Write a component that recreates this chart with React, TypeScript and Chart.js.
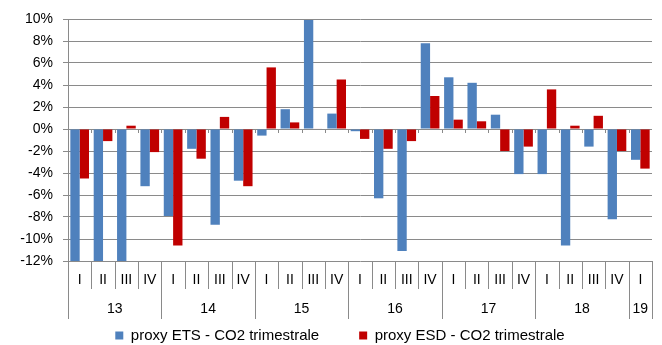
import React, { useEffect, useRef } from "react";
import { Chart, registerables } from "chart.js";

Chart.register(...registerables);

const quarters = [
  "I", "II", "III", "IV",
  "I", "II", "III", "IV",
  "I", "II", "III", "IV",
  "I", "II", "III", "IV",
  "I", "II", "III", "IV",
  "I", "II", "III", "IV",
  "I",
];
const years = ["13", "14", "15", "16", "17", "18", "19"];
const yearSpans = [4, 4, 4, 4, 4, 4, 1];

const etsValues = [
  -12, -12, -12, -5.2,
  -7.9, -1.8, -8.7, -4.7,
  -0.6, 1.8, 9.9, 1.4,
  -0.2, -6.3, -11.1, 7.8,
  4.7, 4.2, 1.3, -4.1,
  -4.1, -10.6, -1.6, -8.2,
  -2.8,
];
const esdValues = [
  -4.5, -1.1, 0.3, -2.1,
  -10.6, -2.7, 1.1, -5.2,
  5.6, 0.6, 0.05, 4.5,
  -0.9, -1.8, -1.1, 3.0,
  0.85, 0.7, -2.0, -1.6,
  3.6, 0.3, 1.2, -2.0,
  -3.6,
];

const seriesNames = ["proxy ETS - CO2 trimestrale", "proxy ESD - CO2 trimestrale"];
const yMin = -12;
const yMax = 10;
const yStep = 2;

const FONT = '"Liberation Sans", Arial, sans-serif';
const GRID = "#8a8a8a";

const legendShift = {
  id: "legendShift",
  afterLayout(chart: any) {
    if (chart.legend) {
      chart.legend.left += 14;
      chart.legend.right += 14;
    }
  },
};

const multiLevelAxis = {
  id: "multiLevelAxis",
  afterDraw(chart: any) {
    const { ctx, chartArea, scales } = chart;
    const x = scales.x;
    const y = scales.y;
    const n = quarters.length;
    const step = (chartArea.right - chartArea.left) / n;
    const bottom = chartArea.bottom;
    const zero = y.getPixelForValue(0);
    const yearBounds = new Set<number>();
    let acc = 0;
    yearBounds.add(0);
    yearSpans.forEach((s) => {
      acc += s;
      yearBounds.add(acc);
    });
    ctx.save();
    ctx.strokeStyle = GRID;
    ctx.lineWidth = 1;
    for (let i = 0; i <= n; i++) {
      const bx =
        i < n ? x.getPixelForValue(i) - step / 2 : x.getPixelForValue(n - 1) + step / 2;
      const px = Math.round(bx) + 0.5;
      const len = yearBounds.has(i) ? 58 : 28;
      ctx.beginPath();
      ctx.moveTo(px, bottom);
      ctx.lineTo(px, bottom + len);
      ctx.stroke();
      if (i > 0 && i < n) {
        ctx.beginPath();
        ctx.moveTo(px, zero);
        ctx.lineTo(px, zero + 4);
        ctx.stroke();
      }
    }
    ctx.fillStyle = "#000";
    ctx.font = `14px ${FONT}`;
    ctx.textAlign = "center";
    ctx.textBaseline = "middle";
    quarters.forEach((q, i) => {
      ctx.fillText(q, x.getPixelForValue(i), bottom + 19);
    });
    let start = 0;
    years.forEach((yr, k) => {
      const end = start + yearSpans[k] - 1;
      const cx = (x.getPixelForValue(start) + x.getPixelForValue(end)) / 2;
      ctx.fillText(yr, cx, bottom + 48);
      start = end + 1;
    });
    ctx.restore();
  },
};

export default function App() {
  const ref = useRef<HTMLCanvasElement | null>(null);
  useEffect(() => {
    if (!ref.current) return;
    const chart = new Chart(ref.current, {
      type: "bar",
      data: {
        labels: quarters,
        datasets: [
          {
            label: seriesNames[0],
            data: etsValues,
            backgroundColor: "#4F81BD",
            categoryPercentage: 0.8,
            barPercentage: 1.0,
          },
          {
            label: seriesNames[1],
            data: esdValues,
            backgroundColor: "#C00000",
            categoryPercentage: 0.8,
            barPercentage: 1.0,
          },
        ],
      },
      options: {
        responsive: false,
        animation: false,
        layout: { padding: { top: 19, right: 10, left: 0, bottom: -8 } },
        plugins: {
          legend: {
            position: "bottom",
            labels: {
              boxWidth: 8,
              boxHeight: 8,
              padding: 40,
              color: "#000",
              font: { family: FONT, size: 15 },
            },
          },
          tooltip: { enabled: false },
        },
        scales: {
          x: {
            ticks: { display: false },
            grid: { display: false },
            border: { display: false },
            afterFit: (s: any) => {
              s.height = 27;
            },
          },
          y: {
            min: yMin,
            max: yMax,
            ticks: {
              stepSize: yStep,
              color: "#000",
              padding: 10,
              font: { family: FONT, size: 14 },
              callback: (v: any) => `${v}%`,
            },
            grid: { color: GRID, tickLength: 5 },
            border: { display: true, color: GRID },
            afterFit: (s: any) => {
              s.width = 68;
            },
          },
        },
      } as any,
      plugins: [multiLevelAxis, legendShift],
    });
    return () => chart.destroy();
  }, []);
  return (
    <div style={{ position: "absolute", left: 0, top: 0, width: 662, height: 345 }}>
      <canvas ref={ref} width={662} height={345} />
    </div>
  );
}
